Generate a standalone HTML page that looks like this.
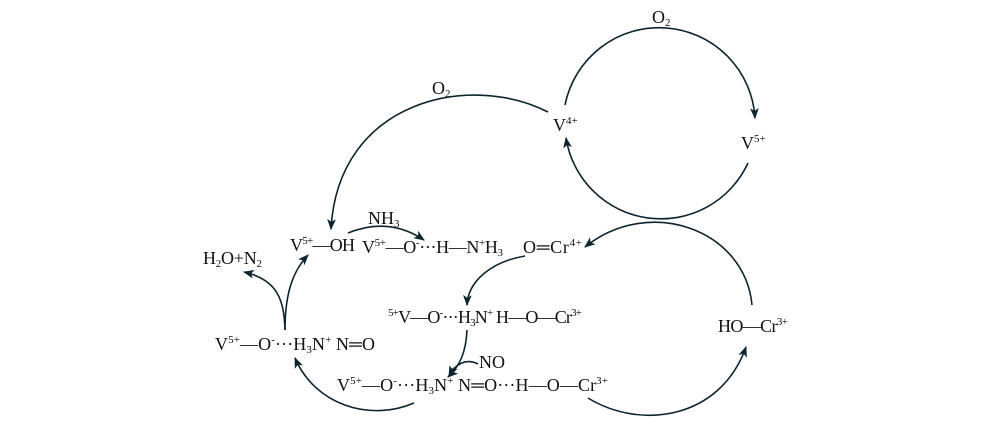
<!DOCTYPE html>
<html><head><meta charset="utf-8"><style>
html,body{margin:0;padding:0;background:#fff;}
svg{display:block;}
text{font-family:"Liberation Serif",serif;font-size:18px;fill:#111;}
.s{font-size:11px;}
</style></head><body>
<svg width="1000" height="429" viewBox="0 0 1000 429" xmlns="http://www.w3.org/2000/svg">
<defs>
<marker id="a" viewBox="0 0 10 10" refX="9" refY="5" markerWidth="11" markerHeight="11" orient="auto-start-reverse" markerUnits="userSpaceOnUse">
<path d="M0,1 L10,5 L0,9 L2.5,5 Z" fill="#0d2430"/></marker>
</defs>
<g fill="none" stroke="#0d2430" stroke-width="1.6">
<path d="M565,105 A96,96 0 0 1 755,118" marker-end="url(#a)"/>
<path d="M748,163 A96,96 0 0 1 566,138" marker-end="url(#a)"/>
<path d="M548,112 C470,72 338,100 331,229" marker-end="url(#a)"/>
<path d="M752,305 C745,230 650,195 585,247" marker-end="url(#a)"/>
<path d="M588,398 C640,430 720,420 746,347" marker-end="url(#a)"/>
<path d="M348,233 C375,222 400,224 424,240" marker-end="url(#a)"/>
<path d="M525,256 C490,262 468,282 467,305" marker-end="url(#a)"/>
<path d="M467,330 C466,352 460,366 448,377" marker-end="url(#a)"/>
<path d="M478,364 C466,358 455,364 449,376" marker-end="url(#a)"/>
<path d="M414,403 C370,422 315,405 295,358" marker-end="url(#a)"/>
<path d="M285,330 C284,300 278,280 244,272" marker-end="url(#a)"/>
<path d="M285,330 C285,295 292,272 308,255" marker-end="url(#a)"/>
</g>
<text x="652" y="23">O<tspan class="s" dy="3">2</tspan></text>
<text x="432" y="94">O<tspan class="s" dy="3">2</tspan></text>
<text x="553" y="131">V<tspan class="s" dy="-7">4+</tspan></text>
<text x="741" y="149">V<tspan class="s" dy="-7">5+</tspan></text>
<text x="368" y="224">NH<tspan class="s" dy="3">3</tspan></text>
<text x="290" y="251" textLength="65" lengthAdjust="spacing">V<tspan class="s" dy="-7">5+</tspan><tspan dy="7">—OH</tspan></text>
<text x="203" y="264" textLength="59" lengthAdjust="spacing">H<tspan class="s" dy="3">2</tspan><tspan dy="-3">O+N</tspan><tspan class="s" dy="3">2</tspan></text>
<text x="362" y="253" textLength="141" lengthAdjust="spacing">V<tspan class="s" dy="-7">5+</tspan><tspan dy="7">—O</tspan><tspan class="s" dy="-7">-</tspan><tspan dy="7">···H—N</tspan><tspan class="s" dy="-7">+</tspan><tspan dy="7">H</tspan><tspan class="s" dy="3">3</tspan></text>
<text x="523" y="253" textLength="59" lengthAdjust="spacing">O═Cr<tspan class="s" dy="-7">4+</tspan></text>
<text x="388" y="323" textLength="194" lengthAdjust="spacing"><tspan class="s" dy="-7">5+</tspan><tspan dy="7">V—O</tspan><tspan class="s" dy="-7">-</tspan><tspan dy="7">···H</tspan><tspan class="s" dy="3">3</tspan><tspan dy="-3">N</tspan><tspan class="s" dy="-7">+</tspan><tspan dy="7"> H—O—Cr</tspan><tspan class="s" dy="-7">3+</tspan></text>
<text x="215" y="350" textLength="160" lengthAdjust="spacing">V<tspan class="s" dy="-7">5+</tspan><tspan dy="7">—O</tspan><tspan class="s" dy="-7">-</tspan><tspan dy="7">···H</tspan><tspan class="s" dy="3">3</tspan><tspan dy="-3">N</tspan><tspan class="s" dy="-7">+</tspan><tspan dy="7"> N═O</tspan></text>
<text x="479" y="368">NO</text>
<text x="337" y="391" textLength="271" lengthAdjust="spacing">V<tspan class="s" dy="-7">5+</tspan><tspan dy="7">—O</tspan><tspan class="s" dy="-7">-</tspan><tspan dy="7">···H</tspan><tspan class="s" dy="3">3</tspan><tspan dy="-3">N</tspan><tspan class="s" dy="-7">+</tspan><tspan dy="7"> N═O···H—O—Cr</tspan><tspan class="s" dy="-7">3+</tspan></text>
<text x="718" y="332" textLength="70" lengthAdjust="spacing">HO—Cr<tspan class="s" dy="-7">3+</tspan></text>
</svg>
</body></html>
